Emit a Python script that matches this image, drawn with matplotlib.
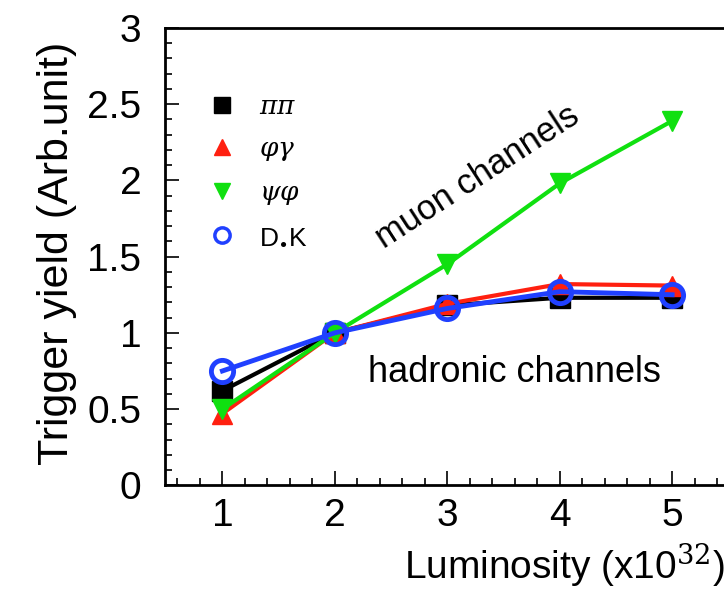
import matplotlib.pyplot as plt
import numpy as np
from matplotlib.lines import Line2D
from matplotlib.ticker import MultipleLocator

plt.rcParams['font.family'] = ['Liberation Sans', 'DejaVu Sans']
plt.rcParams['mathtext.fontset'] = 'dejavuserif'

# luminosity points (x10^32)
luminosity = [1, 2, 3, 4, 5]

# trigger yields per channel
pipi = [0.62, 1.0, 1.18, 1.23, 1.23]
phigamma = [0.47, 1.0, 1.19, 1.32, 1.31]
psiphi = [0.50, 1.0, 1.45, 1.98, 2.39]
dsk = [0.75, 1.0, 1.16, 1.27, 1.25]

labels = [r'$\pi\pi$', r'$\varphi\gamma$', r'$\psi\varphi$', r'D$_{\bullet}$K']

fig = plt.figure(figsize=(7.24, 5.94), dpi=100)
ax = fig.add_axes([0.228, 0.183, 0.778, 0.77])

ax.plot(luminosity, pipi, color='black', lw=3, marker='s', ms=14, zorder=2)
ax.plot(luminosity, phigamma, color='#ff2010', lw=3, marker='^', ms=14, zorder=3)
ax.plot(luminosity, psiphi, color='#10e010', lw=3, marker='v', ms=14, zorder=4)
ax.plot(luminosity, dsk, color='#2040ff', lw=3.5, marker='o', ms=16, mfc='none',
        mew=3.5, zorder=5)

handles = [
    Line2D([], [], ls='none', marker='s', color='black', ms=11),
    Line2D([], [], ls='none', marker='^', color='#ff2010', ms=11),
    Line2D([], [], ls='none', marker='v', color='#10e010', ms=11),
    Line2D([], [], ls='none', marker='o', color='#2040ff', mfc='none', mew=2.5, ms=11),
]
ax.legend(handles, labels, loc='upper left', bbox_to_anchor=(0.035, 0.905),
          frameon=False, fontsize=19, handlelength=1.0, handletextpad=0.9,
          labelspacing=0.68)

ax.text(3.27, 2.02, 'muon channels', rotation=33, fontsize=25,
        ha='center', va='center')
ax.text(3.6, 0.74, 'hadronic channels', fontsize=26, ha='center', va='center')

ax.set_xlim(0.49, 5.5)
ax.set_ylim(0, 2.98)
ax.set_xticks(luminosity)
ax.set_yticks([0, 0.5, 1, 1.5, 2, 2.5, 3])
ax.set_yticklabels(['0', '0.5', '1', '1.5', '2', '2.5', '3'])
ax.xaxis.set_minor_locator(MultipleLocator(0.2))
ax.yaxis.set_minor_locator(MultipleLocator(0.1))
ax.tick_params(which='both', direction='in', labelsize=28, width=1.2)
ax.tick_params(which='major', length=10)
ax.tick_params(which='minor', length=5)
ax.tick_params(axis='x', pad=9)
ax.tick_params(axis='y', pad=17)
for s in ax.spines.values():
    s.set_linewidth(2)

fig.text(0.78, 0.05, r'Luminosity (x10$^{32}$)', fontsize=28, ha='center',
         va='center')
fig.text(0.079, 0.573, 'Trigger yield (Arb.unit)', fontsize=31, rotation=90,
         ha='center', va='center')

fig.savefig('out.png', dpi=100)
